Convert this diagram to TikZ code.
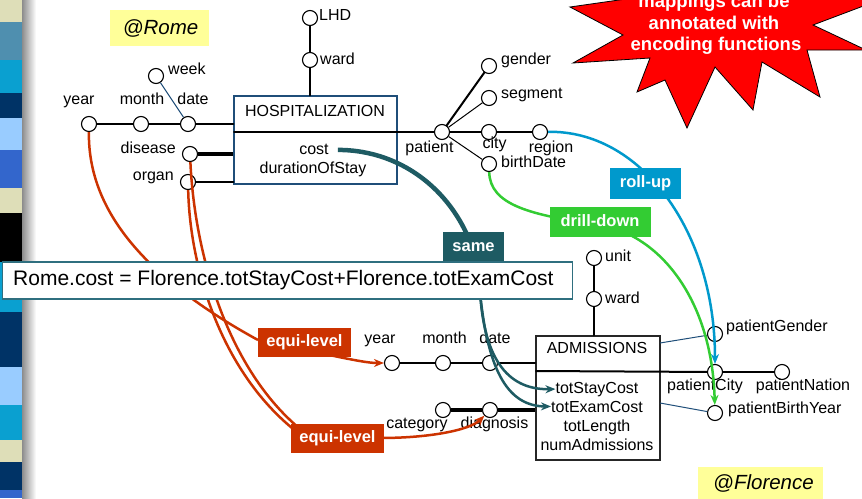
\documentclass[tikz,border=0pt]{standalone}
\usepackage{fontspec}
\setmainfont{Liberation Sans}
\usetikzlibrary{arrows.meta}

\definecolor{equired}{HTML}{CC3300}
\definecolor{sameteal}{HTML}{1E5B63}
\definecolor{rollblue}{HTML}{0099CC}
\definecolor{drillgreen}{HTML}{33CC33}
\definecolor{noteyellow}{HTML}{FFFF99}
\definecolor{factblue}{HTML}{1F4E79}
\definecolor{exprteal}{HTML}{2F6F7F}
\definecolor{stripbeige}{HTML}{DEDEB8}
\definecolor{stripsteel}{HTML}{4F8FAF}
\definecolor{stripcyan}{HTML}{0AA0D0}
\definecolor{stripnavy}{HTML}{003366}
\definecolor{striplight}{HTML}{99CCFF}
\definecolor{stripblue}{HTML}{3366CC}

\tikzset{
  attr/.style={circle, draw=black, line width=1.1pt, fill=white, minimum size=15pt, inner sep=0pt},
  lbl/.style={anchor=base, inner sep=0pt, font=\fontsize{16}{19}\selectfont},
  lblw/.style={lbl, anchor=base west},
  lble/.style={lbl, anchor=base east},
  hier/.style={line width=2pt, line cap=round},
  hierthick/.style={line width=3.5pt},
  thinlink/.style={line width=1pt, draw=factblue},
  tag/.style={inner sep=0pt, font=\bfseries\fontsize{16.5}{19}\selectfont, text=white,
              text height=12pt, text depth=3.5pt},
  burst/.style={anchor=base, inner sep=0pt, text=white, font=\bfseries\fontsize{18.5}{22}\selectfont},
  site/.style={anchor=base, inner sep=0pt, font=\itshape\fontsize{20.5}{24}\selectfont},
  mapcurve/.style={line width=2.5pt},
  arrowend/.style={-{Stealth[length=10pt,width=8pt]}}
}

\begin{document}
\begin{tikzpicture}[x=1pt,y=-1pt]
\useasboundingbox (0,0) rectangle (862,498);
\clip (0,0) rectangle (862,498);

% slide border strip with its shadow
\shade[left color=black!45, right color=white] (22,0) rectangle (36,498);
\fill[stripbeige] (0,0) rectangle (22,22);
\fill[stripsteel] (0,22) rectangle (22,60);
\fill[stripcyan]  (0,60) rectangle (22,93);
\fill[stripnavy]  (0,93) rectangle (22,118);
\fill[striplight] (0,118) rectangle (22,150);
\fill[stripblue]  (0,150) rectangle (22,188);
\fill[stripbeige] (0,188) rectangle (22,213);
\fill[black]      (0,213) rectangle (22,262);
\fill[stripcyan]  (0,262) rectangle (22,312);
\fill[stripnavy]  (0,312) rectangle (22,367);
\fill[striplight] (0,367) rectangle (22,405);
\fill[stripcyan]  (0,405) rectangle (22,440);
\fill[stripbeige] (0,440) rectangle (22,462);
\fill[stripnavy]  (0,462) rectangle (22,490);
\fill[stripblue]  (0,490) rectangle (22,498);

% starburst note
\filldraw[fill=red, draw=black, line width=0.8pt]
  (570,7) -- (623,35) -- (573,63) -- (650,58) -- (637,92) -- (665,80) -- (687,128)
  -- (715,67) -- (753,110) -- (762,62) -- (820,97) -- (807,50) -- (866,50)
  -- (813,25) -- (866,5) -- (866,-30) -- (640,-30) -- (640,-3) -- cycle;
\node[burst] (burst1) at (714,7) {mappings can be};
\node[burst] (burst2) at (714,29) {annotated with};
\node[burst] (burst3) at (716,50.5) {encoding functions};

% site tags
\node[fill=noteyellow, minimum width=99pt, minimum height=36pt, inner sep=0pt] (romebox) at (159.5,28) {};
\node[site] (rometxt) at (160.5,34.5) {@Rome};
\node[fill=noteyellow, minimum width=125pt, minimum height=36pt, inner sep=0pt] (florbox) at (760.5,485) {};
\node[site] (flortxt) at (763.5,489) {@Florence};

% ---------------- Rome schema ----------------
\node[draw=factblue, line width=1.2pt, minimum width=163pt, minimum height=88pt, inner sep=0pt] (hosp) at (315.5,140) {};
\node[lbl] (hosptitle) at (315,116) {HOSPITALIZATION};
\node[lbl] (cst) at (314,154) {cost};
\node[lbl] (dur) at (313,173) {durationOfStay};
\coordinate (hdiv) at (234,132);

\node[attr] (ry)   at (89,124)  {};
\node[attr] (rm)   at (141,124) {};
\node[attr] (rdt)  at (188,124) {};
\node[attr] (rwk)  at (156,76)  {};
\node[attr] (rdis) at (190,154) {};
\node[attr] (rorg) at (188,182) {};
\node[attr] (lhd)  at (310,18)  {};
\node[attr] (rwd)  at (310,60)  {};
\node[attr] (pat)  at (442,132) {};
\node[attr] (gen)  at (489,66)  {};
\node[attr] (seg)  at (489,98)  {};
\node[attr] (city) at (489,132) {};
\node[attr] (reg)  at (540,132) {};
\node[attr] (bd)   at (489,164) {};

\draw[hier] (ry) -- (rm);
\draw[hier] (rm) -- (rdt);
\draw[hier] (rdt) -- (rdt -| hosp.west);
\draw[thinlink] (rdt) -- (rwk);
\draw[hierthick] (rdis) -- (rdis -| hosp.west);
\draw[hier] (rorg) -- (rorg -| hosp.west);
\draw[hier] (lhd) -- (rwd);
\draw[hier] (rwd) -- (rwd |- hosp.north);
\draw[hier] (hdiv) -- (pat);
\draw[hier] (pat) -- (gen);
\draw[line width=1pt] (pat) -- (seg);
\draw[hier] (pat) -- (city);
\draw[hier] (city) -- (reg);
\draw[line width=1pt] (pat) -- (bd);

\node[lbl]  (lry)   at (79,104)  {year};
\node[lbl]  (lrm)   at (142,104) {month};
\node[lbl]  (lrdt)  at (193,104) {date};
\node[lblw] (lrwk)  at (168,74)  {week};
\node[lble] (lrdis) at (176,153) {disease};
\node[lble] (lrorg) at (174,180) {organ};
\node[lblw] (llhd)  at (319,20)  {LHD};
\node[lblw] (lrwd)  at (320,64)  {ward};
\node[lblw] (lgen)  at (501,64)  {gender};
\node[lblw] (lseg)  at (501,98)  {segment};
\node[lbl]  (lpat)  at (429.5,152) {patient};
\node[lbl]  (lcity) at (494.5,148) {city};
\node[lbl]  (lreg)  at (551,152) {region};
\node[lblw] (lbd)   at (501,167) {birthDate};

% ---------------- Florence schema ----------------
\node[draw=black!85, line width=1.5pt, minimum width=124pt, minimum height=124pt, inner sep=0pt] (adm) at (598,398) {};
\node[lbl] (admtitle) at (597,353) {ADMISSIONS};
\node[lbl] (tsc) at (597,393) {totStayCost};
\node[lbl] (tec) at (597,412) {totExamCost};
\node[lbl] (tln) at (597,431) {totLength};
\node[lbl] (nad) at (597,450) {numAdmissions};
\coordinate (adiv) at (536,371);
\coordinate (agen) at (660,343);
\coordinate (aby)  at (660,403);

\node[attr] (fy)   at (392,363) {};
\node[attr] (fm)   at (443,363) {};
\node[attr] (fdt)  at (490,363) {};
\node[attr] (cat)  at (443,410) {};
\node[attr] (diag) at (490,410) {};
\node[attr] (unit) at (594,258) {};
\node[attr] (fwd)  at (594,299) {};
\node[attr] (pg)   at (715,334) {};
\node[attr] (pc)   at (715,372) {};
\node[attr] (pn)   at (782,372) {};
\node[attr] (pby)  at (715,413) {};

\draw[hier] (fy) -- (fm);
\draw[hier] (fm) -- (fdt);
\draw[hier] (fdt) -- (fdt -| adm.west);
\draw[hierthick] (cat) -- (diag);
\draw[hierthick] (diag) -- (diag -| adm.west);
\draw[hier] (unit) -- (fwd);
\draw[hier] (fwd) -- (fwd |- adm.north);
\draw[hier] (adiv) -- (pc);
\draw[hier] (pc) -- (pn);
\draw[thinlink] (agen) -- (pg);
\draw[thinlink] (aby) -- (pby);

\node[lbl]  (lfy)   at (380,343)   {year};
\node[lbl]  (lfm)   at (444.5,343) {month};
\node[lbl]  (lfdt)  at (495,343)   {date};
\node[lbl]  (lcat)  at (417,428)   {category};
\node[lbl]  (ldiag) at (494.5,428) {diagnosis};
\node[lblw] (lunit) at (605,261)   {unit};
\node[lblw] (lfwd)  at (605,303)   {ward};
\node[lblw] (lpg)   at (726,331)   {patientGender};
\node[lbl]  (lpc)   at (705,390)   {patientCity};
\node[lbl]  (lpn)   at (803,390)   {patientNation};
\node[lblw] (lpby)  at (728,413)   {patientBirthYear};

% ---------------- inter-schema mappings ----------------
% roll-up
\draw[mapcurve, rollblue, arrowend] (reg) .. controls (640,130) and (715,230) .. (pc);
% drill-down
\draw[mapcurve, drillgreen, arrowend] (bd) .. controls (490,205) and (530,215) .. (600,225)
  .. controls (660,235) and (712,300) .. (pby);
% same
\coordinate (samefoot) at (480,292);
\draw[line width=4.5pt, sameteal] ([xshift=9pt,yshift=-1pt]cst.east) .. controls (405,150) and (455,195) .. (473,250);
\draw[line width=2.5pt, sameteal, arrowend] (samefoot) .. controls (484,355) and (505,390) .. (tsc.west);
\draw[line width=2.5pt, sameteal, arrowend] (samefoot) .. controls (488,375) and (510,406) .. (tec.west);
% equi-level
\draw[mapcurve, equired] (ry) .. controls (88,200) and (130,270) .. (258,340);
\draw[mapcurve, equired, arrowend] (304,350) .. controls (345,358) and (365,363) .. (fy);
\draw[mapcurve, equired] (rdis) .. controls (195,260) and (230,370) .. (299,428);
\draw[mapcurve, equired] (rorg) .. controls (190,270) and (222,370) .. (292,428);
\draw[mapcurve, equired, arrowend] (380,438) .. controls (430,438) and (470,430) .. (diag);

% mapping tags
\node[tag, fill=rollblue,   minimum width=71pt,  minimum height=31pt] (rollup) at (645.5,183.5) {roll-up};
\node[tag, fill=drillgreen, minimum width=101pt, minimum height=30pt] (drill)  at (600,222)     {drill-down};
\node[tag, fill=sameteal,   minimum width=61pt,  minimum height=30pt] (same)   at (473.5,247)   {same};
\node[tag, fill=equired,    minimum width=93pt,  minimum height=29pt] (equi1)  at (304.5,342.5) {equi-level};
\node[tag, fill=equired,    minimum width=93pt,  minimum height=29pt] (equi2)  at (337.5,438.5) {equi-level};

% encoding function
\node[draw=exprteal, line width=1.5pt, fill=white, minimum width=570pt, minimum height=37pt, inner sep=0pt] (expr) at (287.5,280.5) {};
\node[anchor=base west, inner sep=0pt, font=\fontsize{21}{24}\selectfont] (exprtext) at (13,285)
  {Rome.cost = Florence.totStayCost+Florence.totExamCost};
\end{tikzpicture}
\end{document}
